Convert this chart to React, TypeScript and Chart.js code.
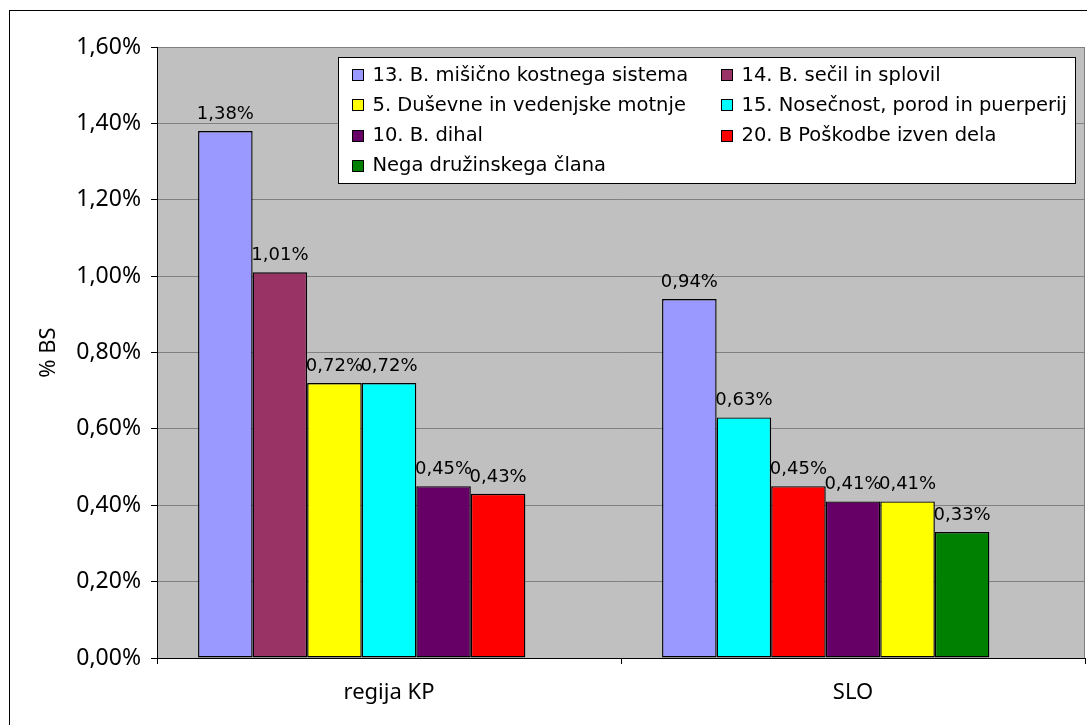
import React, { useEffect, useRef } from 'react';
import { Chart, registerables } from 'chart.js';

Chart.register(...registerables);

// ---- data ----
const categories = ['regija KP', 'SLO'];

const seriesKeys = ['13', '14', '5', '15', '10', '20', 'Nega'];
const seriesNames = [
  '13. B. mišično kostnega sistema',
  '14. B. sečil in splovil',
  '5. Duševne in vedenjske motnje',
  '15. Nosečnost, porod in puerperij',
  '10. B. dihal',
  '20. B Poškodbe izven dela',
  'Nega družinskega člana',
];
const seriesColors = ['#9999FF', '#993366', '#FFFF00', '#00FFFF', '#660066', '#FF0000', '#008000'];

// values in % per category [regija KP, SLO]
const values13 = [1.38, 0.94];
const values14 = [1.01, null];
const values5 = [0.72, 0.41];
const values15 = [0.72, 0.63];
const values10 = [0.45, 0.41];
const values20 = [0.43, 0.45];
const valuesNega = [null, 0.33];
const seriesValues = [values13, values14, values5, values15, values10, values20, valuesNega];

// order of bars inside each category group (one slot per series; last slot stays empty)
const barOrderKP = ['13', '14', '5', '15', '10', '20'];
const barOrderSLO = ['13', '15', '20', '10', '5', 'Nega'];
const barOrders = [barOrderKP, barOrderSLO];

const yTickValues = [0, 0.2, 0.4, 0.6, 0.8, 1.0, 1.2, 1.4, 1.6];

const fmtPct = (v: number) => v.toFixed(2).replace('.', ',') + '%';

const AXIS_FONT = 'Noto Sans';
const LABEL_FONT = 'DejaVu Sans';

export default function App() {
  const canvasRef = useRef<HTMLCanvasElement | null>(null);

  useEffect(() => {
    const canvas = canvasRef.current;
    if (!canvas) return;

    const slotCount = seriesKeys.length;
    const datasets = [];
    for (let s = 0; s < slotCount; s++) {
      const data = categories.map((_, c) => {
        const key = barOrders[c][s];
        const idx = seriesKeys.indexOf(key);
        return idx >= 0 ? seriesValues[idx][c] : null;
      });
      const colors = categories.map((_, c) => {
        const idx = seriesKeys.indexOf(barOrders[c][s]);
        return idx >= 0 ? seriesColors[idx] : '#000';
      });
      datasets.push({
        label: 'slot ' + (s + 1),
        data,
        backgroundColor: colors,
        borderColor: '#000000',
        borderWidth: 1.4,
        borderSkipped: false,
        categoryPercentage: 0.823,
        barPercentage: 1.0,
      });
    }

    const backgroundPlugin = {
      id: 'bgPlugin',
      beforeDraw(chart: any) {
        const { ctx, chartArea } = chart;
        ctx.save();
        ctx.fillStyle = '#ffffff';
        ctx.fillRect(0, 0, chart.width, chart.height);
        ctx.strokeStyle = '#000000';
        ctx.lineWidth = 1;
        ctx.strokeRect(9.5, 10.5, chart.width + 50, chart.height + 50);
        ctx.fillStyle = '#C0C0C0';
        ctx.fillRect(chartArea.left, chartArea.top, chartArea.right - chartArea.left, chartArea.bottom - chartArea.top);
        ctx.restore();
      },
      beforeDatasetsDraw(chart: any) {
        const { ctx, chartArea } = chart;
        ctx.save();
        ctx.strokeStyle = '#808080';
        ctx.lineWidth = 1;
        ctx.beginPath();
        ctx.moveTo(Math.round(chartArea.right) - 0.5, chartArea.top);
        ctx.lineTo(Math.round(chartArea.right) - 0.5, chartArea.bottom);
        ctx.stroke();
        ctx.restore();
      },
    };

    const valueLabelPlugin = {
      id: 'valueLabels',
      afterDatasetsDraw(chart: any) {
        const { ctx } = chart;
        ctx.save();
        ctx.font = `18px "${LABEL_FONT}"`;
        ctx.fillStyle = '#000000';
        ctx.textAlign = 'center';
        ctx.textBaseline = 'alphabetic';
        chart.data.datasets.forEach((ds: any, i: number) => {
          const meta = chart.getDatasetMeta(i);
          meta.data.forEach((el: any, j: number) => {
            const v = ds.data[j];
            if (v == null) return;
            ctx.fillText(fmtPct(v), el.x, el.y - 12);
          });
        });
        ctx.restore();
      },
    };

    const legendPlugin = {
      id: 'boxLegend',
      afterDraw(chart: any) {
        const { ctx, chartArea } = chart;
        const left = chartArea.left + 181.5;
        const top = chartArea.top + 10.5;
        const width = 737;
        const height = 126;
        ctx.save();
        ctx.fillStyle = '#ffffff';
        ctx.fillRect(left, top, width, height);
        ctx.strokeStyle = '#000000';
        ctx.lineWidth = 1;
        ctx.strokeRect(left, top, width, height);
        ctx.font = `19.5px "${LABEL_FONT}"`;
        ctx.textAlign = 'left';
        ctx.textBaseline = 'middle';
        seriesNames.forEach((name, i) => {
          const col = i % 2;
          const row = Math.floor(i / 2);
          const sx = Math.round(left + 13 + col * 369) + 0.5;
          const cy = top + 17 + row * 30.3;
          const sy = Math.round(cy - 5.5) + 0.5;
          ctx.fillStyle = seriesColors[i];
          ctx.fillRect(sx, sy, 11, 11);
          ctx.strokeStyle = '#000000';
          ctx.strokeRect(sx, sy, 11, 11);
          ctx.fillStyle = '#000000';
          ctx.fillText(name, sx + 20, cy + 1);
        });
        ctx.restore();
      },
    };

    const chart = new Chart(canvas, {
      type: 'bar',
      data: { labels: categories, datasets },
      options: {
        responsive: false,
        animation: false,
        events: [],
        layout: { padding: { top: 47, right: 2, left: 0, bottom: 0 } },
        plugins: {
          legend: { display: false },
          tooltip: { enabled: false },
        },
        scales: {
          x: {
            grid: {
              drawOnChartArea: false,
              drawTicks: true,
              tickLength: 6,
              tickColor: '#000000',
              offset: true,
            },
            border: { display: true, color: '#000000', width: 1 },
            ticks: {
              color: '#000000',
              font: { family: AXIS_FONT, size: 22 },
              padding: 16,
            },
            afterFit: (s: any) => {
              s.height = 67;
            },
          },
          y: {
            min: 0,
            max: 1.6,
            afterBuildTicks: (s: any) => {
              s.ticks = yTickValues.map((v) => ({ value: v }));
            },
            ticks: {
              color: '#000000',
              font: { family: AXIS_FONT, size: 23 },
              padding: 10,
              callback: (v: any) => fmtPct(Number(v)),
            },
            grid: {
              color: (c: any) => (c.tick && c.tick.value === 0 ? '#000000' : '#808080'),
              tickColor: '#000000',
              tickLength: 6,
              lineWidth: 1,
            },
            border: { display: true, color: '#000000', width: 1 },
            title: {
              display: true,
              text: '% BS',
              color: '#000000',
              font: { family: AXIS_FONT, size: 22 },
              padding: { top: 36, bottom: 0 },
            },
            afterFit: (s: any) => {
              s.width = 157;
            },
          },
        },
      },
      plugins: [backgroundPlugin, valueLabelPlugin, legendPlugin],
    } as any);

    return () => {
      chart.destroy();
    };
  }, []);

  return (
    <div style={{ position: 'absolute', left: 0, top: 0, width: 1087, height: 725, background: '#fff' }}>
      <canvas ref={canvasRef} width={1087} height={725} style={{ display: 'block' }} />
    </div>
  );
}
